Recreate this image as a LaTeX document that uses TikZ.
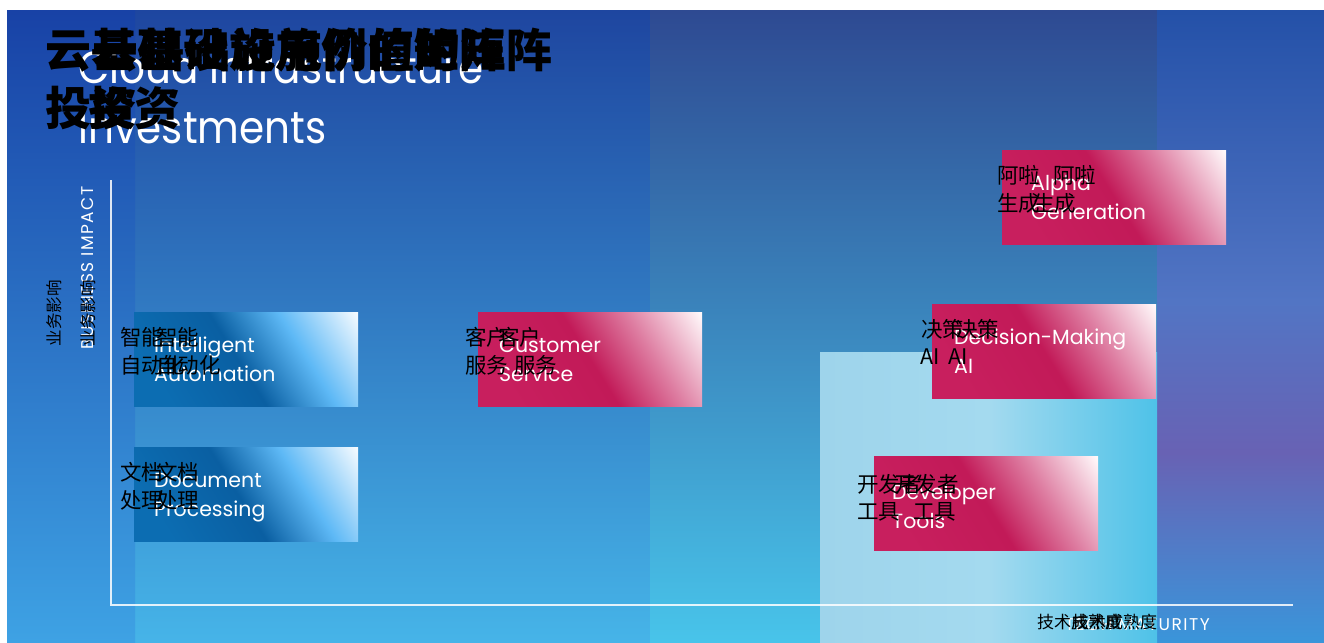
\documentclass[tikz,border=0pt]{standalone}
\usepackage{fontspec}
\setmainfont{Poppins}
\newfontfamily\fut{Poppins}
\newfontfamily\futn[FakeStretch=0.9]{Poppins}
\newfontfamily\cjk{Noto Sans CJK SC}
\definecolor{pkA}{HTML}{C81F5E}
\definecolor{pkB}{HTML}{C21A58}
\definecolor{pkC}{HTML}{DE7EA2}
\definecolor{pkW}{HTML}{FFF8FA}
\definecolor{bA}{HTML}{0C6DB2}
\definecolor{bB}{HTML}{0A5FA2}
\definecolor{bC}{HTML}{5EB9F6}
\definecolor{bW}{HTML}{F4FAFF}
\definecolor{Lt}{HTML}{1842A6}
\definecolor{Lm}{HTML}{2C70C8}
\definecolor{Lb}{HTML}{3EA2E4}
\definecolor{Mt}{HTML}{1E46A0}
\definecolor{Mm}{HTML}{2F78C6}
\definecolor{Mb}{HTML}{46B4E8}
\definecolor{Nt}{HTML}{2E4A92}
\definecolor{Nm}{HTML}{3C8BC8}
\definecolor{Nb}{HTML}{48C4EA}
\definecolor{Ra}{HTML}{3A95DA}
\definecolor{Rb}{HTML}{6862B4}
\definecolor{Rc}{HTML}{5275C4}
\definecolor{Rd}{HTML}{2451A8}
\definecolor{Pa}{HTML}{9ED4EB}
\definecolor{Pb}{HTML}{A4DAEF}
\definecolor{Pc}{HTML}{4EC2E8}
\pgfdeclarehorizontalshading{pinkS}{100bp}{color(0bp)=(pkA); color(25bp)=(pkA); color(50bp)=(pkB); color(66bp)=(pkC); color(84bp)=(pkW); color(100bp)=(pkW)}
\pgfdeclarehorizontalshading{blueS}{100bp}{color(0bp)=(bA); color(25bp)=(bA); color(48bp)=(bB); color(65bp)=(bC); color(84bp)=(bW); color(100bp)=(bW)}
\pgfdeclareverticalshading{rightS}{100bp}{color(0bp)=(Ra); color(25bp)=(Ra); color(40bp)=(Rb); color(52bp)=(Rc); color(75bp)=(Rd); color(100bp)=(Rd)}
\pgfdeclarehorizontalshading{paleS}{100bp}{color(0bp)=(Pa); color(25bp)=(Pa); color(50bp)=(Pb); color(75bp)=(Pc); color(100bp)=(Pc)}
\begin{document}
\begin{tikzpicture}[x=1pt,y=-1pt,
  pbox/.style={shading=pinkS, shading angle=32, minimum width=224pt, minimum height=94pt, inner sep=0pt, anchor=north west},
  bbox/.style={shading=blueS, shading angle=32, minimum width=224pt, minimum height=94pt, inner sep=0pt, anchor=north west},
  entext/.style={text=white, font=\fut\fontsize{20.5}{24}\selectfont, anchor=base west, inner sep=0pt},
  zh/.style={text=black, font=\cjk\fontsize{21.5}{24}\selectfont, anchor=west, inner sep=0pt},
  zhaxis/.style={text=black, font=\cjk\fontsize{16.5}{18}\selectfont, inner sep=0pt},
  zhtitle/.style={text=black, font=\cjk\bfseries\fontsize{46}{50}\selectfont, anchor=west, inner sep=0pt},
  axislabel/.style={text=white, font=\fut\fontsize{17}{19}\selectfont\addfontfeature{LetterSpace=9}, inner sep=0pt},
  titletext/.style={text=white, font=\futn\fontsize{45}{50}\selectfont, anchor=base west, inner sep=0pt},
  axisline/.style={draw=white, draw opacity=0.85, line width=1.4pt}]
\useasboundingbox (0,0) rectangle (1324,642);
\fill[white] (0,0) rectangle (1324,642);
% background panels
\shade[top color=Mt, middle color=Mm, bottom color=Mb] (135,11) rectangle (650,642);
\shade[top color=Lt, middle color=Lm, bottom color=Lb] (7,11) rectangle (135,642);
\shade[top color=Nt, middle color=Nm, bottom color=Nb] (650,11) rectangle (1157,642);
\shade[shading=rightS] (1157,11) rectangle (1324,642);
\shade[shading=paleS] (820,352) rectangle (1157,642);
% title
\node[titletext] (t1) at (78,83) {Cloud Infrastructure};
\node[titletext] (t2) at (78,143) {Investments};
\node[zhtitle] (zt1a) at (45,50) {云基础设施用例的矩阵};
\node[zhtitle] (zt1b) at (92,50) {云基础设施价值的矩阵};
\node[zhtitle] (zt2a) at (45,108) {投资};
\node[zhtitle] (zt2b) at (88,108) {投资};
% axes
\coordinate (ytop) at (111,180);
\coordinate (origin) at (111,605);
\coordinate (xend) at (1293,605);
\draw[axisline] (ytop) -- (origin) -- (xend);
\node[axislabel, rotate=90] (ylab) at (88,268) {BUSINESS IMPACT};
\node[zhaxis, rotate=90] (ylza) at (54,313) {业务影响};
\node[zhaxis, rotate=90] (ylzb) at (88,313) {业务影响};
\node[axislabel, anchor=east] (xlab) at (1210,625) {TECH MATURITY};
\node[zhaxis, font=\cjk\fontsize{17}{18}\selectfont, anchor=west] (xlza) at (1037,622) {技术成熟度};
\node[zhaxis, font=\cjk\fontsize{17}{18}\selectfont, anchor=west] (xlzb) at (1072,622) {技术成熟度};
% boxes
\node[bbox] (ia) at (134,312) {};
\node[bbox] (dp) at (134,447) {};
\node[pbox] (cs) at (478,312) {};
\node[pbox] (ag) at (1002,150) {};
\node[pbox] (dm) at (932,304) {};
\node[pbox] (dt) at (874,456) {};
% english labels
\node[entext] (ia1) at (154,352) {Intelligent};
\node[entext] (ia2) at (154,381) {Automation};
\node[entext] (dp1) at (154,487) {Document};
\node[entext] (dp2) at (154,516) {Processing};
\node[entext] (cs1) at (499,352) {Customer};
\node[entext] (cs2) at (499,381) {Service};
\node[entext] (ag1) at (1031,190) {Alpha};
\node[entext] (ag2) at (1031,219) {Generation};
\node[entext] (dm1) at (954,344) {Decision-Making};
\node[entext] (dm2) at (954,373) {AI};
\node[entext] (dt1) at (892,499) {Developer};
\node[entext] (dt2) at (892,528) {Tools};
% chinese overlays
\node[zh] (zia1a) at (120,337) {智能};
\node[zh] (zia1b) at (156,337) {智能};
\node[zh] (zia2a) at (120,365) {自动化};
\node[zh] (zia2b) at (156,365) {自动化};
\node[zh] (zdp1a) at (120,472) {文档};
\node[zh] (zdp1b) at (156,472) {文档};
\node[zh] (zdp2a) at (120,500) {处理};
\node[zh] (zdp2b) at (156,500) {处理};
\node[zh] (zcs1a) at (465,337) {客户};
\node[zh] (zcs1b) at (498,337) {客户};
\node[zh] (zcs2a) at (465,365) {服务};
\node[zh] (zcs2b) at (514,365) {服务};
\node[zh] (zag1a) at (997,175) {阿啦};
\node[zh] (zag1b) at (1053,175) {阿啦};
\node[zh] (zag2a) at (997,203) {生成};
\node[zh] (zag2b) at (1033,203) {生成};
\node[zh] (zdm1a) at (921,329) {决策};
\node[zh] (zdm1b) at (956,329) {决策};
\node[zh] (zdm2a) at (920,357) {AI};
\node[zh] (zdm2b) at (948,357) {AI};
\node[zh] (zdt1a) at (857,484) {开发者};
\node[zh] (zdt1b) at (894,484) {开发者};
\node[zh] (zdt2a) at (857,512) {工具};
\node[zh] (zdt2b) at (913,512) {工具};
\end{tikzpicture}
\end{document}
